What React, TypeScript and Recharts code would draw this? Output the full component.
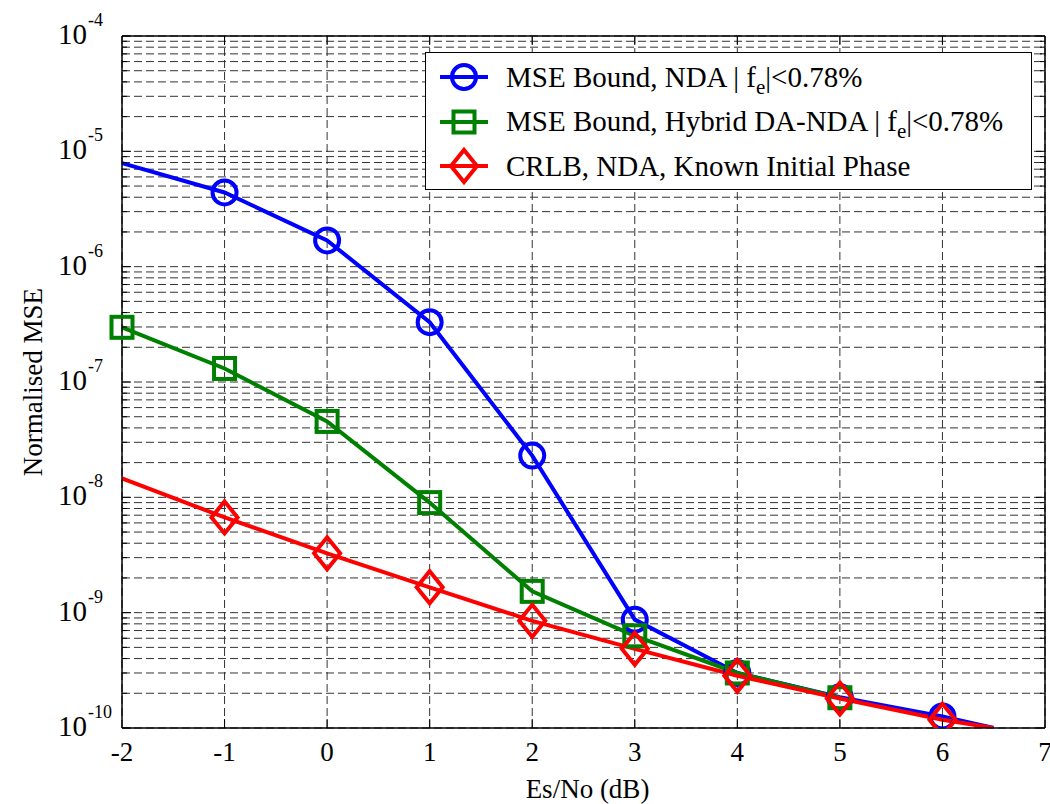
import {
  LineChart,
  Line,
  XAxis,
  YAxis,
  CartesianGrid,
  ReferenceLine,
  Legend,
} from "recharts";

const esNo = [-2, -1, 0, 1, 2, 3, 4, 5, 6, 6.5];
const ndaBound = [7.9e-6, 4.4e-6, 1.69e-6, 3.3e-7, 2.3e-8, 8.7e-10, 3.0e-10, 1.85e-10, 1.26e-10, 1.0e-10];
const hybridBound = [2.98e-7, 1.31e-7, 4.55e-8, 9.0e-9, 1.53e-9, 6.3e-10, 3.0e-10, 1.83e-10, null, null];
const crlb = [1.46e-8, 6.7e-9, 3.27e-9, 1.66e-9, 8.5e-10, 4.86e-10, 2.84e-10, 1.8e-10, 1.18e-10, 1.0e-10];

// which x positions carry a marker for each curve
const ndaMarks = [-1, 0, 1, 2, 3, 4, 5, 6];
const hybridMarks = [-2, -1, 0, 1, 2, 3, 4, 5];
const crlbMarks = [-1, 0, 1, 2, 3, 4, 5, 6];

const xTicks = [-2, -1, 0, 1, 2, 3, 4, 5, 6, 7];
const decades = [-10, -9, -8, -7, -6, -5, -4];

// log axis ticks: decades plus 2..9 minors
const yTicks: number[] = [];
decades.forEach((d) => {
  yTicks.push(Math.pow(10, d));
  if (d < -4) {
    for (let m = 2; m <= 9; m++) yTicks.push(m * Math.pow(10, d));
  }
});

const data = esNo.map((x, i) => ({
  x,
  nda: ndaBound[i],
  hybrid: hybridBound[i],
  crlb: crlb[i],
}));

const W = 1050;
const H = 804;
const Y_AXIS_W = 122;
const X_AXIS_H = 76;
const MARGIN = { top: 36, right: 5, bottom: 0, left: 0 };
const PLOT_TOP = MARGIN.top;
const PLOT_BOTTOM = H - X_AXIS_H;
const PLOT_LEFT = Y_AXIS_W;
const PLOT_RIGHT = W - MARGIN.right;

const FONT = "'Liberation Serif', 'Times New Roman', serif";
const BLUE = "#0000ff";
const GREEN = "#008000";
const RED = "#ff0000";
const LW = 4;

const Circle = ({ cx, cy, color }: any) => (
  <circle cx={cx} cy={cy} r={12} fill="none" stroke={color} strokeWidth={LW} />
);
const Square = ({ cx, cy, color }: any) => (
  <rect x={cx - 10.5} y={cy - 10.5} width={21} height={21} fill="none" stroke={color} strokeWidth={LW} />
);
const Diamond = ({ cx, cy, color }: any) => (
  <path
    d={`M${cx},${cy - 16} L${cx + 13},${cy} L${cx},${cy + 16} L${cx - 13},${cy} Z`}
    fill="none"
    stroke={color}
    strokeWidth={LW}
  />
);

const makeDot = (Shape: any, color: string, marks: number[]) => (props: any) => {
  const { cx, cy, payload, index } = props;
  if (cx == null || cy == null || !marks.includes(payload.x)) return <g key={`d-${index}`} />;
  return (
    <g key={`d-${index}`}>
      <Shape cx={cx} cy={cy} color={color} />
    </g>
  );
};

const XTick = (props: any) => {
  const { x, payload } = props;
  const edge = payload.value === -2 || payload.value === 7;
  return (
    <g>
      {!edge && (
        <>
          <line x1={x} x2={x} y1={PLOT_BOTTOM} y2={PLOT_BOTTOM - 9} stroke="#000" />
          <line x1={x} x2={x} y1={PLOT_TOP} y2={PLOT_TOP + 9} stroke="#000" />
        </>
      )}
      <text x={x} y={PLOT_BOTTOM + 33} textAnchor="middle" fontFamily={FONT} fontSize={27} fill="#000">
        {payload.value}
      </text>
    </g>
  );
};

const YTick = (props: any) => {
  const { y, payload } = props;
  const exp = Math.log10(payload.value);
  const major = Math.abs(exp - Math.round(exp)) < 1e-6;
  const len = major ? 9 : 5;
  return (
    <g>
      <line x1={PLOT_LEFT} x2={PLOT_LEFT + len} y1={y} y2={y} stroke="#000" />
      <line x1={PLOT_RIGHT} x2={PLOT_RIGHT - len} y1={y} y2={y} stroke="#000" />
      {major && (
        <text x={58} y={y + 8} textAnchor="start" fontFamily={FONT} fontSize={29} fill="#000">
          10
          <tspan fontSize={18} dy={-18} dx={1}>
            {Math.round(exp)}
          </tspan>
        </text>
      )}
    </g>
  );
};

const legendItems = [
  { Shape: Circle, color: BLUE, label: "MSE Bound, NDA | f", sub: "e", tail: "|<0.78%" },
  { Shape: Square, color: GREEN, label: "MSE Bound, Hybrid DA-NDA | f", sub: "e", tail: "|<0.78%" },
  { Shape: Diamond, color: RED, label: "CRLB, NDA, Known Initial Phase", sub: "", tail: "" },
];

const renderLegend = () => (
  <div
    style={{
      background: "#fff",
      border: "1.5px solid #000",
      width: 607,
      height: 138,
      boxSizing: "border-box",
      fontFamily: FONT,
      fontSize: 29,
      color: "#000",
      paddingTop: 2,
    }}
  >
    {legendItems.map((it) => (
      <div key={it.color} style={{ display: "flex", alignItems: "center", height: 44.5 }}>
        <svg width={56} height={40} style={{ marginLeft: 12, flexShrink: 0 }}>
          <line x1={2} x2={50} y1={20} y2={20} stroke={it.color} strokeWidth={LW} />
          <it.Shape cx={26} cy={20} color={it.color} />
        </svg>
        <span style={{ whiteSpace: "nowrap", marginLeft: 12 }}>
          {it.label}
          {it.sub && <sub style={{ fontSize: 21, lineHeight: 0 }}>{it.sub}</sub>}
          {it.tail}
        </span>
      </div>
    ))}
  </div>
);

export default function App() {
  return (
    <div style={{ position: "absolute", left: 0, top: 0, width: W, height: H, background: "#fff" }}>
      <LineChart width={W} height={H} data={data} margin={MARGIN}>
        <CartesianGrid stroke="#333" strokeDasharray="8 4" />
        <XAxis
          dataKey="x"
          type="number"
          domain={[-2, 7]}
          ticks={xTicks}
          tick={XTick}
          tickLine={false}
          height={X_AXIS_H}
          axisLine={{ stroke: "#000", strokeWidth: 1.5 }}
          interval={0}
          label={{
            value: "Es/No (dB)",
            position: "insideBottom",
            offset: 6,
            dx: 4,
            fontFamily: FONT,
            fontSize: 27,
            fill: "#000",
          }}
        />
        <YAxis
          type="number"
          scale="log"
          domain={[1e-10, 1e-4]}
          ticks={yTicks}
          tick={YTick}
          tickLine={false}
          interval={0}
          allowDataOverflow
          width={Y_AXIS_W}
          axisLine={{ stroke: "#000", strokeWidth: 1.5 }}
          label={{
            value: "Normalised MSE",
            angle: -90,
            position: "insideLeft",
            offset: 0,
            dx: 32,
            fontFamily: FONT,
            fontSize: 27,
            fill: "#000",
            style: { textAnchor: "middle" },
          }}
        />
        <ReferenceLine y={1e-4} stroke="#000" strokeWidth={1.5} />
        <ReferenceLine x={7} stroke="#000" strokeWidth={1.5} />
        <Line
          dataKey="nda"
          stroke={BLUE}
          strokeWidth={LW}
          dot={makeDot(Circle, BLUE, ndaMarks)}
          isAnimationActive={false}
        />
        <Line
          dataKey="hybrid"
          stroke={GREEN}
          strokeWidth={LW}
          dot={makeDot(Square, GREEN, hybridMarks)}
          isAnimationActive={false}
        />
        <Line
          dataKey="crlb"
          stroke={RED}
          strokeWidth={LW}
          dot={makeDot(Diamond, RED, crlbMarks)}
          isAnimationActive={false}
        />
        <Legend
          layout="vertical"
          verticalAlign="middle"
          align="center"
          content={renderLegend}
          wrapperStyle={{ left: 425, top: 52, width: 607 }}
        />
      </LineChart>
    </div>
  );
}
